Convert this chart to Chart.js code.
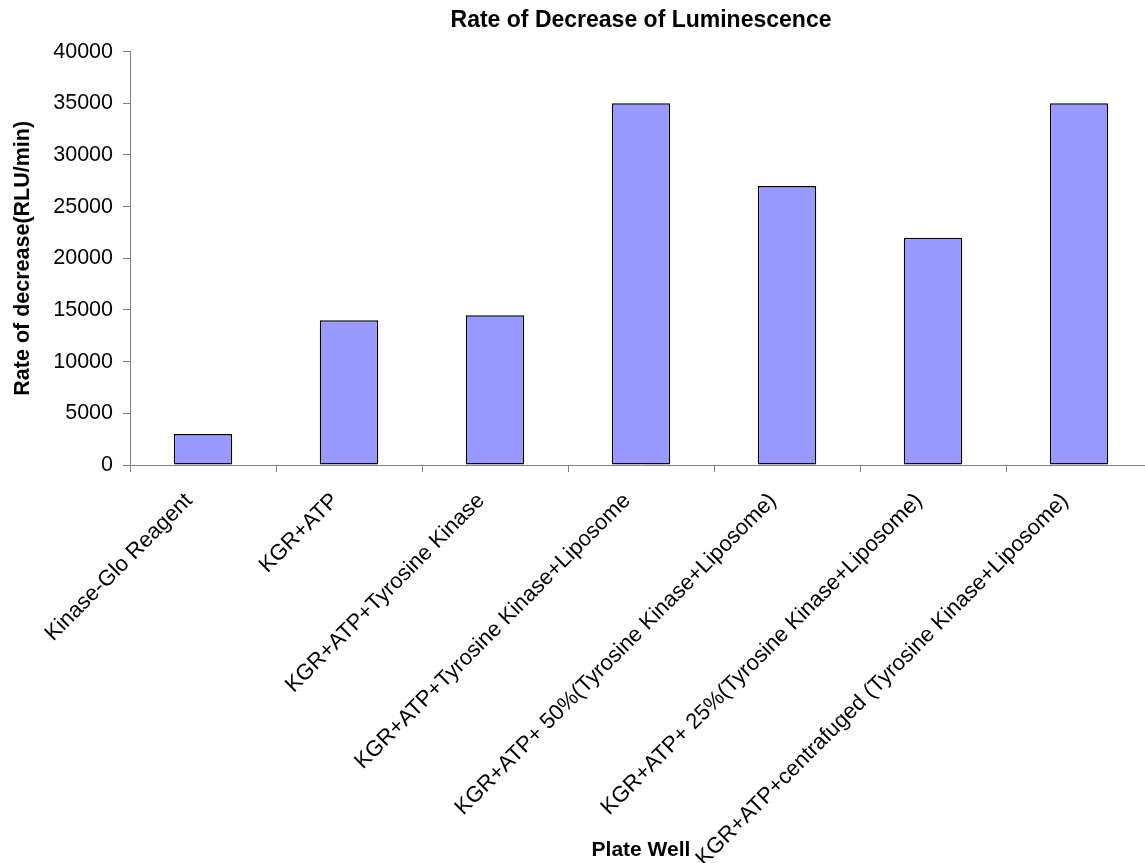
<!DOCTYPE html>
<html>
<head>
  <title>Rate of Decrease of Luminescence</title>
  <script src="https://cdn.jsdelivr.net/npm/chart.js"></script>
  <style>
    html, body {
      margin: 0;
      padding: 0;
      background: #fff;
      overflow: hidden;
    }
    #chart {
      display: block;
    }
  </style>
</head>
<body>
  <canvas id="chart" width="1152" height="863"></canvas>

  <script>
    const wells = [
      'Kinase-Glo Reagent',
      'KGR+ATP',
      'KGR+ATP+Tyrosine Kinase',
      'KGR+ATP+Tyrosine Kinase+Liposome',
      'KGR+ATP+ 50%(Tyrosine Kinase+Liposome)',
      'KGR+ATP+ 25%(Tyrosine Kinase+Liposome)',
      'KGR+ATP+centrafuged (Tyrosine Kinase+Liposome)'
    ];
    const rates = [3000, 14000, 14500, 35000, 27000, 22000, 35000];

    const yMin = 0;
    const yMax = 40000;
    const yStep = 5000;

    const FONT = '"Liberation Sans", Arial, sans-serif';
    const axisGrey = '#808080';

    new Chart(document.getElementById('chart').getContext('2d'), {
      type: 'bar',
      data: {
        labels: wells,
        datasets: [{
          label: 'Rate of decrease',
          data: rates,
          backgroundColor: '#9999ff',
          borderColor: '#000000',
          borderWidth: 1.5,
          borderSkipped: false,
          categoryPercentage: 1.0,
          barPercentage: 0.4
        }]
      },
      options: {
        responsive: false,
        animation: false,
        devicePixelRatio: 1,
        layout: { padding: 0 },
        plugins: {
          legend: { display: false },
          tooltip: { enabled: false },
          title: {
            display: true,
            text: 'Rate of Decrease of Luminescence',
            fullSize: false,
            color: '#000',
            font: { family: FONT, size: 23, weight: 'bold' },
            padding: { top: 7, bottom: 17 }
          }
        },
        scales: {
          x: {
            afterFit: (scale) => { scale.height = 398; },
            grid: {
              display: true,
              drawOnChartArea: false,
              drawTicks: true,
              tickLength: 7,
              color: axisGrey
            },
            border: { display: true, color: axisGrey, width: 1 },
            ticks: {
              autoSkip: false,
              minRotation: 45,
              maxRotation: 45,
              labelOffset: -14,
              padding: 16,
              color: '#000',
              font: { family: FONT, size: 22 }
            },
            title: {
              display: true,
              text: 'Plate Well',
              color: '#000',
              font: { family: FONT, size: 21, weight: 'bold' },
              padding: { top: 0, bottom: 0 }
            }
          },
          y: {
            min: yMin,
            max: yMax,
            afterFit: (scale) => { scale.width = 130; },
            grid: {
              display: true,
              drawOnChartArea: false,
              drawTicks: true,
              tickLength: 7,
              color: axisGrey
            },
            border: { display: true, color: axisGrey, width: 1 },
            ticks: {
              stepSize: yStep,
              padding: 10,
              color: '#000',
              font: { family: FONT, size: 21.5 },
              callback: (v) => String(v)
            },
            title: {
              display: true,
              text: 'Rate of decrease(RLU/min)',
              color: '#000',
              font: { family: FONT, size: 21.5, weight: 'bold' },
              padding: { top: 10, bottom: 0 }
            }
          }
        }
      }
    });
  </script>
</body>
</html>
